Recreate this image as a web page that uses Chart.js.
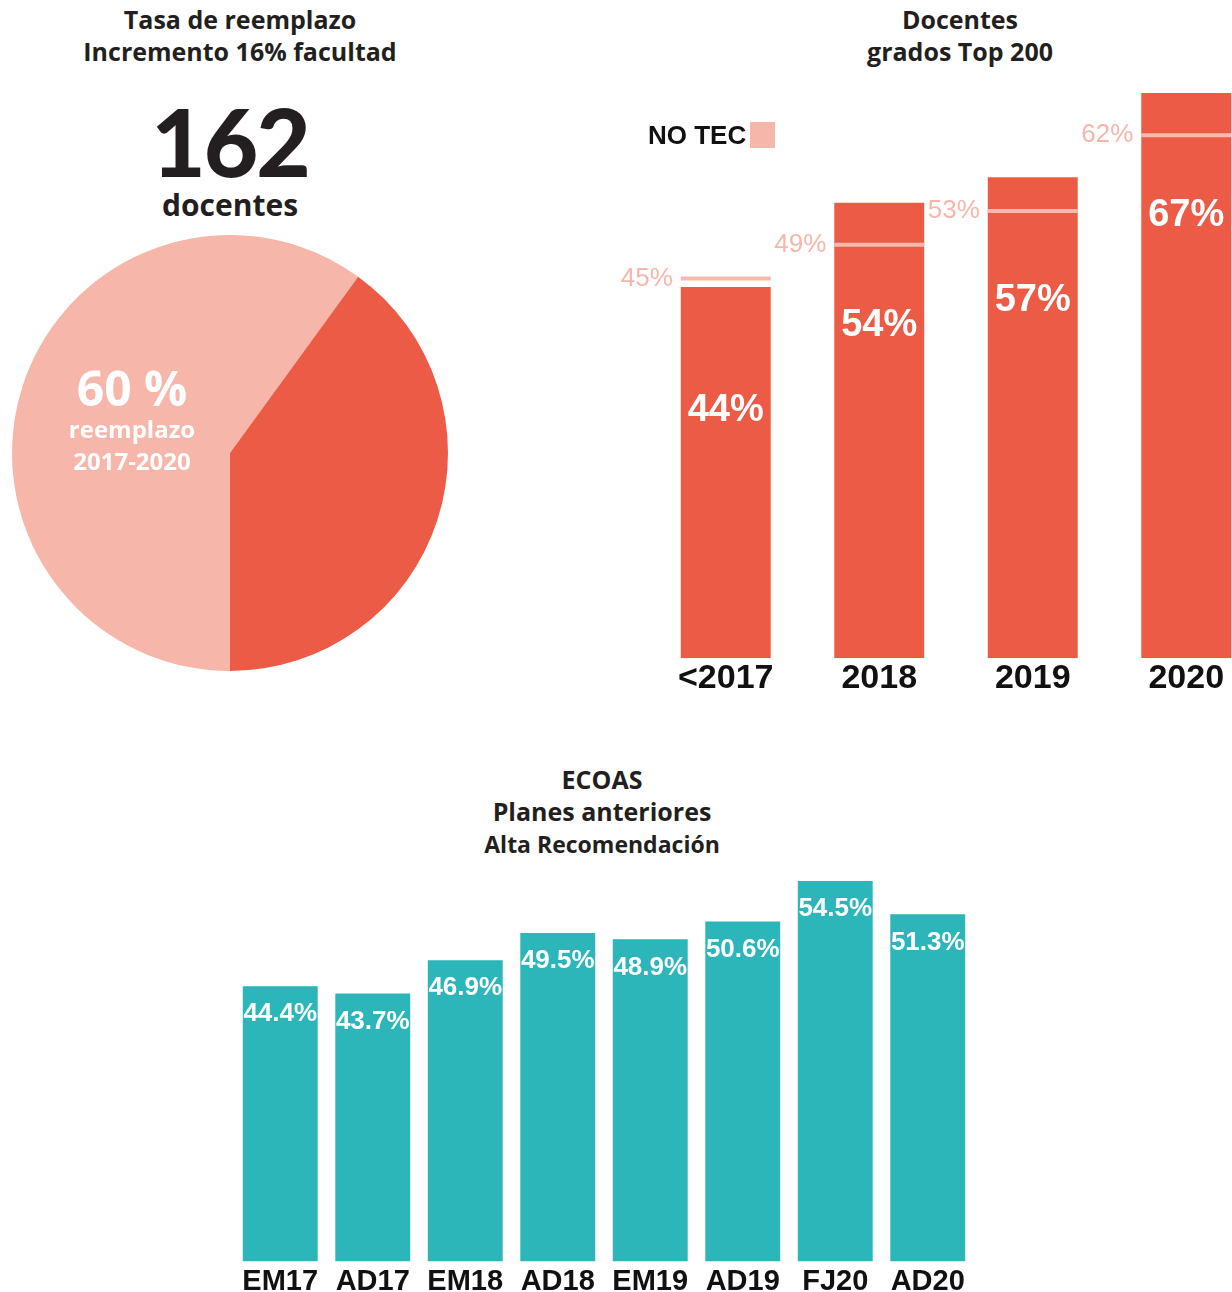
<!DOCTYPE html>
<html lang="es">
<head>
<meta charset="utf-8">
<title>Tasa de reemplazo, Docentes Top 200, ECOAS</title>
<script src="https://cdn.jsdelivr.net/npm/chart.js@4.4.1/dist/chart.umd.min.js"></script>
<style>
  html, body { margin: 0; padding: 0; width: 1232px; height: 1292px; overflow: hidden; background: #fff; }
  body { position: relative; font-family: 'Open Sans', 'Noto Sans', sans-serif; color: #231f20; }
  .t { position: absolute; transform: translateX(-50%); white-space: nowrap; font-weight: 700; text-align: center; line-height: 1; }
  .box { position: absolute; }
</style>
</head>
<body>

<!-- pie block -->
<div class="t" style="left:240px; top:7px; font-size:25px;">Tasa de reemplazo</div>
<div class="t" style="left:240px; top:39px; font-size:25px;">Incremento 16% facultad</div>
<div class="t" style="left:230px; top:94px; font-size:94px; font-family:Lato, 'Open Sans', sans-serif; font-weight:900; letter-spacing:-2px;">162</div>
<div class="t" style="left:230px; top:190px; font-size:30px;">docentes</div>
<div class="box" style="left:12px; top:235px; width:436px; height:436px;"><canvas id="pieChart"></canvas></div>

<!-- top bar block -->
<div class="t" style="left:960px; top:7px; font-size:25px;">Docentes</div>
<div class="t" style="left:960px; top:39px; font-size:25px;">grados Top 200</div>
<div class="box" style="left:600px; top:80px; width:663px; height:619px;"><canvas id="topChart"></canvas></div>
<div class="box" style="left:648px; top:121px; font: bold 26px 'Liberation Sans', Arial, sans-serif; line-height:28px; color:#111;">NO TEC</div>
<div class="box" style="left:750px; top:122px; width:25px; height:26px; background:#f7b6aa;"></div>

<!-- ECOAS block -->
<div class="t" style="left:602px; top:767px; font-size:25px;">ECOAS</div>
<div class="t" style="left:602px; top:799px; font-size:25px;">Planes anteriores</div>
<div class="t" style="left:602px; top:833px; font-size:23px;">Alta Recomendación</div>
<div class="box" style="left:234px; top:870px; width:740px; height:432px;"><canvas id="ecoasChart"></canvas></div>

<script>
// ---- data ----
const pieLabels = ['Reemplazo 2017-2020', 'Resto'];
const pieValues = [60, 40];

const topCategories = ['<2017', '2018', '2019', '2020'];
const topTecValues = [44, 54, 57, 67];
const topNoTecValues = [45, 49, 53, 62];

const ecoasCategories = ['EM17', 'AD17', 'EM18', 'AD18', 'EM19', 'AD19', 'FJ20', 'AD20'];
const ecoasValues = [44.4, 43.7, 46.9, 49.5, 48.9, 50.6, 54.5, 51.3];

const RED = '#ec5b45';
const PINK = '#f6b6aa';
const TEAL = '#2db6b9';
const HELV = "'Liberation Sans', Arial, sans-serif";

Chart.defaults.animation = false;
Chart.defaults.plugins.legend.display = false;
Chart.defaults.plugins.tooltip.enabled = false;

// ---- pie ----
const pieText = {
  id: 'pieText',
  afterDraw(chart) {
    const arc = chart.getDatasetMeta(0).data[0];
    const ctx = chart.ctx;
    ctx.save();
    ctx.fillStyle = '#fff';
    ctx.textAlign = 'center';
    ctx.textBaseline = 'middle';
    ctx.font = "bold 48px 'Open Sans', sans-serif";
    ctx.fillText(pieValues[0] + ' %', arc.x - 98, arc.y - 61);
    ctx.font = "bold 24px 'Open Sans', sans-serif";
    ctx.fillText('reemplazo', arc.x - 98, arc.y - 22);
    ctx.fillText('2017-2020', arc.x - 98, arc.y + 10);
    ctx.restore();
  }
};

new Chart(document.getElementById('pieChart'), {
  type: 'pie',
  data: {
    labels: pieLabels,
    datasets: [{
      data: pieValues,
      backgroundColor: [PINK, RED],
      borderWidth: 0
    }]
  },
  options: {
    responsive: true,
    maintainAspectRatio: false,
    rotation: 180,
    layout: { padding: 0 }
  },
  plugins: [pieText]
});

// ---- docentes top 200 ----
const topLabels = {
  id: 'topLabels',
  afterDatasetsDraw(chart) {
    const ctx = chart.ctx;
    const bars = chart.getDatasetMeta(0).data;
    const marks = chart.getDatasetMeta(1).data;
    ctx.save();
    ctx.textBaseline = 'middle';
    ctx.textAlign = 'center';
    ctx.fillStyle = '#fff';
    ctx.font = 'bold 38px ' + HELV;
    bars.forEach((b, i) => ctx.fillText(topTecValues[i] + '%', b.x, b.y + 123));
    ctx.textAlign = 'right';
    ctx.fillStyle = PINK;
    ctx.font = '26px ' + HELV;
    marks.forEach((p, i) => ctx.fillText(topNoTecValues[i] + '%', p.x - 53, p.y));
    ctx.restore();
  }
};

new Chart(document.getElementById('topChart'), {
  type: 'bar',
  data: {
    labels: topCategories,
    datasets: [{
      label: 'TEC',
      data: topTecValues,
      backgroundColor: RED,
      barPercentage: 0.586,
      categoryPercentage: 1,
      order: 1
    }, {
      type: 'line',
      label: 'NO TEC',
      data: topNoTecValues,
      showLine: false,
      pointStyle: 'line',
      pointRadius: 45,
      pointBorderWidth: 4,
      pointBorderColor: '#f7b9ae',
      order: 0
    }]
  },
  options: {
    responsive: true,
    maintainAspectRatio: false,
    layout: { autoPadding: false, padding: { top: 13, left: 49, right: 0, bottom: 0 } },
    scales: {
      x: {
        grid: { display: false, drawTicks: false },
        border: { display: false },
        ticks: { color: '#111', padding: 0, maxRotation: 0, font: { family: HELV, size: 34, weight: 'bold' } }
      },
      y: { display: false, min: 0, max: 67 }
    }
  },
  plugins: [topLabels]
});

// ---- ECOAS ----
const ecoasLabels = {
  id: 'ecoasLabels',
  afterDatasetsDraw(chart) {
    const ctx = chart.ctx;
    ctx.save();
    ctx.fillStyle = '#fff';
    ctx.textAlign = 'center';
    ctx.textBaseline = 'middle';
    ctx.font = 'bold 26px ' + HELV;
    chart.getDatasetMeta(0).data.forEach((b, i) => {
      ctx.fillText(ecoasValues[i].toFixed(1) + '%', b.x, b.y + 28);
    });
    ctx.restore();
  }
};

new Chart(document.getElementById('ecoasChart'), {
  type: 'bar',
  data: {
    labels: ecoasCategories,
    datasets: [{
      label: 'Alta Recomendación',
      data: ecoasValues,
      backgroundColor: TEAL,
      barPercentage: 0.81,
      categoryPercentage: 1
    }]
  },
  options: {
    responsive: true,
    maintainAspectRatio: false,
    layout: { autoPadding: false, padding: { top: 11, left: 0, right: 0, bottom: 0 } },
    scales: {
      x: {
        grid: { display: false, drawTicks: false },
        border: { display: false },
        ticks: { color: '#111', padding: 3, maxRotation: 0, font: { family: HELV, size: 29, weight: 'bold' } }
      },
      y: { display: false, min: 18, max: 54.5 }
    }
  },
  plugins: [ecoasLabels]
});
</script>
</body>
</html>
